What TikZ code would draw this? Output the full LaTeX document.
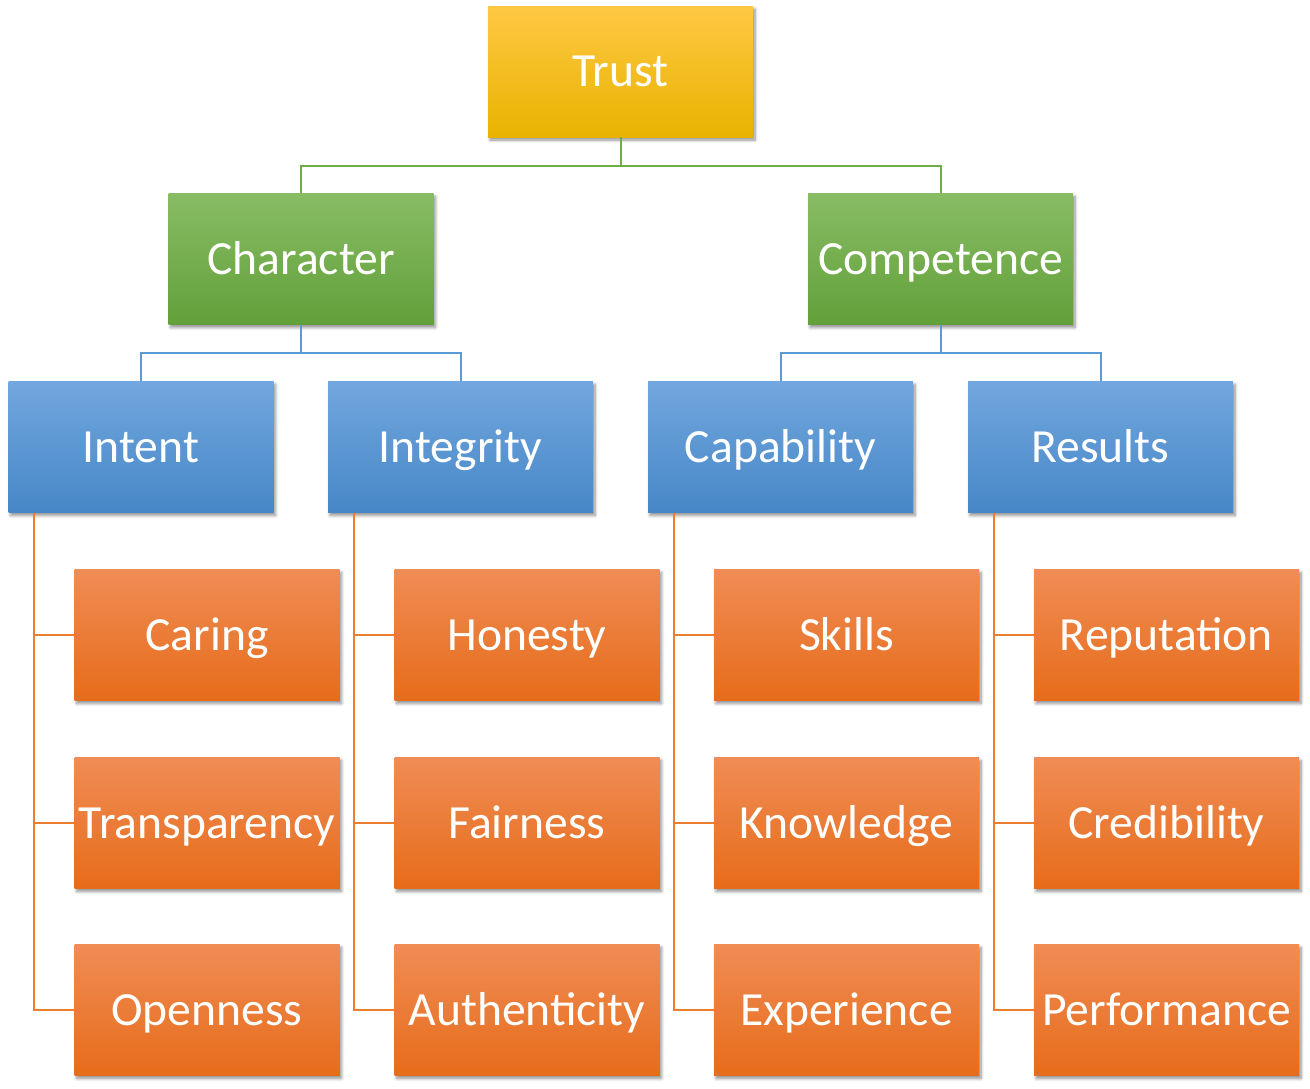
\documentclass[tikz,border=0pt]{standalone}
\usepackage{fontspec}
\setmainfont{Carlito}
\usetikzlibrary{shadows.blur}
\definecolor{goldT}{HTML}{FFC844}
\definecolor{goldM}{HTML}{FFC000}
\definecolor{goldB}{HTML}{E8B300}
\definecolor{greenT}{HTML}{88BC65}
\definecolor{greenM}{HTML}{72AE48}
\definecolor{greenB}{HTML}{62A039}
\definecolor{blueT}{HTML}{71A7DE}
\definecolor{blueM}{HTML}{5B9BD5}
\definecolor{blueB}{HTML}{4787C7}
\definecolor{orangeT}{HTML}{F08C55}
\definecolor{orangeM}{HTML}{F27B2B}
\definecolor{orangeB}{HTML}{E66C1A}
\definecolor{greenLine}{HTML}{70AD47}
\definecolor{blueLine}{HTML}{5B9BD5}
\definecolor{orangeLine}{HTML}{ED7D31}
\tikzset{
  box/.style={rectangle, minimum width=265pt, minimum height=131pt, inner sep=0pt,
    text height=36pt, text depth=6pt,
    text=white, font=\fontsize{47.6}{56}\selectfont,
    blur shadow={shadow xshift=2pt, shadow yshift=-3pt, shadow blur steps=6, shadow opacity=45, shadow blur radius=3pt}},
  goldbox/.style={box, top color=goldT, middle color=goldM, bottom color=goldB},
  greenbox/.style={box, top color=greenT, middle color=greenM, bottom color=greenB},
  bluebox/.style={box, top color=blueT, middle color=blueM, bottom color=blueB},
  orangebox/.style={box, top color=orangeT, middle color=orangeM, bottom color=orangeB},
  gline/.style={draw=greenLine, line width=2pt},
  bline/.style={draw=blueLine, line width=2pt},
  oline/.style={draw=orangeLine, line width=2pt},
}
\begin{document}
\begin{tikzpicture}[x=1pt, y=-1pt]
\path[use as bounding box] (0,0) rectangle (1310,1088);

% top level
\node[goldbox] (trust) at (620.5,71.5) {Trust};
% second level
\node[greenbox] (character) at (301,259) {Character};
\node[greenbox] (competence) at (940.5,259) {Competence};
% third level
\node[bluebox] (intent) at (141,447) {Intent};
\node[bluebox] (integrity) at (460.5,447) {Integrity};
\node[bluebox] (capability) at (780.5,447) {Capability};
\node[bluebox] (results) at (1100.5,447) {Results};
% leaves
\node[orangebox] (caring) at (207,635) {Caring};
\node[orangebox] (transparency) at (207,823) {Transparency};
\node[orangebox] (openness) at (207,1010) {Openness};
\node[orangebox] (honesty) at (527,635) {Honesty};
\node[orangebox] (fairness) at (527,823) {Fairness};
\node[orangebox] (authenticity) at (527,1010) {Authenticity};
\node[orangebox] (skills) at (846.5,635) {Skills};
\node[orangebox] (knowledge) at (846.5,823) {Knowledge};
\node[orangebox] (experience) at (846.5,1010) {Experience};
\node[orangebox] (reputation) at (1166.5,635) {Reputation};
\node[orangebox] (credibility) at (1166.5,823) {Credibility};
\node[orangebox] (performance) at (1166.5,1010) {Performance};

% tree connectors
\draw[gline] (trust.south) -- ++(0,29) -| (character.north);
\draw[gline] (trust.south) -- ++(0,29) -| (competence.north);
\draw[bline] (character.south) -- ++(0,28) -| (intent.north);
\draw[bline] (character.south) -- ++(0,28) -| (integrity.north);
\draw[bline] (competence.south) -- ++(0,28) -| (capability.north);
\draw[bline] (competence.south) -- ++(0,28) -| (results.north);

\foreach \p/\a/\b/\c in {intent/caring/transparency/openness,
                         integrity/honesty/fairness/authenticity,
                         capability/skills/knowledge/experience,
                         results/reputation/credibility/performance}{
  \draw[oline] ([xshift=26pt]\p.south west) |- (\a.west);
  \draw[oline] ([xshift=26pt]\p.south west) |- (\b.west);
  \draw[oline] ([xshift=26pt]\p.south west) |- (\c.west);
}
\end{tikzpicture}
\end{document}
